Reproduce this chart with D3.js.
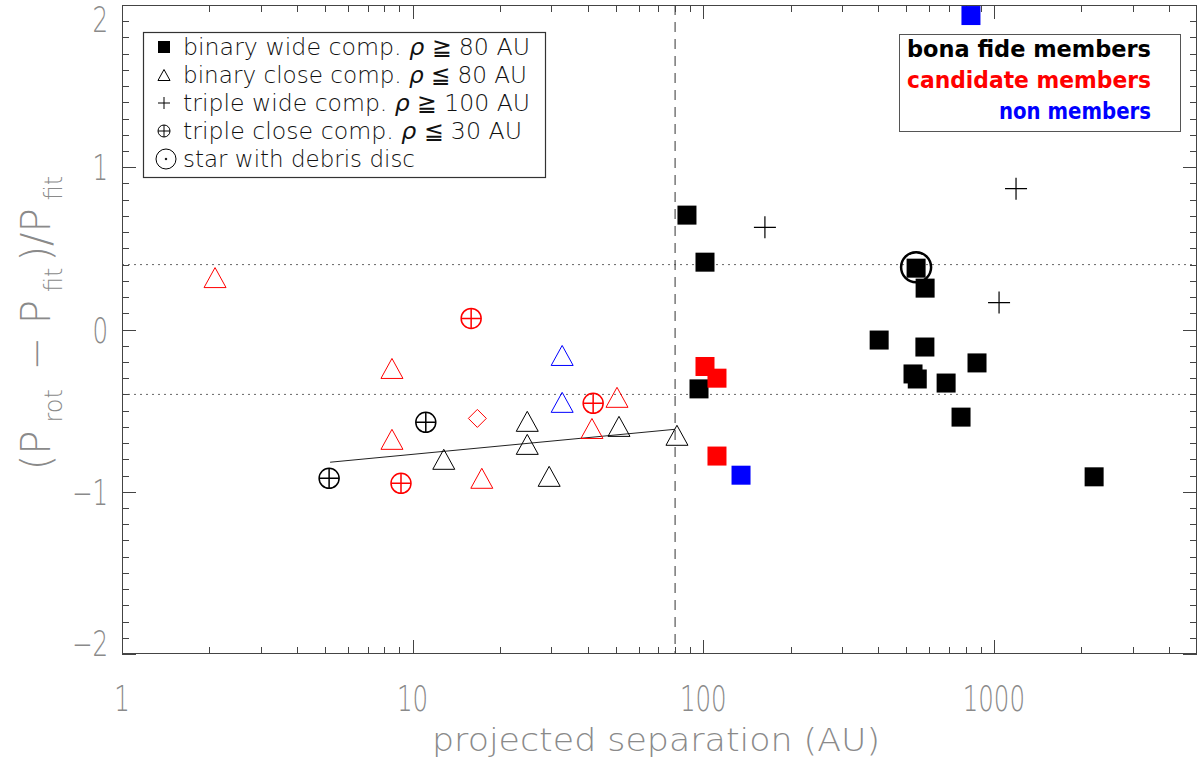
<!DOCTYPE html>
<html>
<head>
<meta charset="utf-8">
<script src="https://cdn.jsdelivr.net/npm/d3@7"></script>
<style>
  body { margin: 0; background: #fff; }
  svg { display: block; }
  text { font-family: "DejaVu Sans", sans-serif; }
</style>
</head>
<body>
<div id="chart"></div>
<script>
// membership: b = bona fide, c = candidate, n = non member
const memberColor = { b: '#000000', c: '#ff0000', n: '#0000ff' };

// binary wide companions (filled squares)
const wideBinary = [
  { sep: 87.9, dev: 0.705, mem: 'b' },
  { sep: 101.4, dev: 0.415, mem: 'b' },
  { sep: 96.7, dev: -0.366, mem: 'b' },
  { sep: 540, dev: 0.378, mem: 'b' },
  { sep: 580, dev: 0.255, mem: 'b' },
  { sep: 579, dev: -0.108, mem: 'b' },
  { sep: 403, dev: -0.065, mem: 'b' },
  { sep: 527, dev: -0.274, mem: 'b' },
  { sep: 545, dev: -0.305, mem: 'b' },
  { sep: 685, dev: -0.33, mem: 'b' },
  { sep: 875, dev: -0.206, mem: 'b' },
  { sep: 771, dev: -0.54, mem: 'b' },
  { sep: 2213, dev: -0.908, mem: 'b' },
  { sep: 101.4, dev: -0.228, mem: 'c' },
  { sep: 111.5, dev: -0.30, mem: 'c' },
  { sep: 111.5, dev: -0.78, mem: 'c' },
  { sep: 134.9, dev: -0.898, mem: 'n' },
  { sep: 834, dev: 1.935, mem: 'n' }
];

// binary close companions (open triangles)
const closeBinary = [
  { sep: 2.09, dev: 0.32, mem: 'c' },
  { sep: 8.49, dev: -0.24, mem: 'c' },
  { sep: 8.49, dev: -0.677, mem: 'c' },
  { sep: 17.3, dev: -0.917, mem: 'c' },
  { sep: 41.4, dev: -0.61, mem: 'c' },
  { sep: 50.5, dev: -0.418, mem: 'c' },
  { sep: 12.8, dev: -0.80, mem: 'b' },
  { sep: 24.8, dev: -0.566, mem: 'b' },
  { sep: 24.8, dev: -0.708, mem: 'b' },
  { sep: 29.5, dev: -0.905, mem: 'b' },
  { sep: 51.3, dev: -0.597, mem: 'b' },
  { sep: 81.2, dev: -0.652, mem: 'b' },
  { sep: 32.7, dev: -0.16, mem: 'n' },
  { sep: 32.7, dev: -0.449, mem: 'n' }
];

// triple wide companions (plus)
const wideTriple = [
  { sep: 163, dev: 0.63, mem: 'b' },
  { sep: 1192, dev: 0.868, mem: 'b' },
  { sep: 1042, dev: 0.166, mem: 'b' }
];

// triple close companions (circled plus)
const closeTriple = [
  { sep: 15.9, dev: 0.068, mem: 'c' },
  { sep: 11.1, dev: -0.572, mem: 'b' },
  { sep: 5.16, dev: -0.917, mem: 'b' },
  { sep: 9.12, dev: -0.948, mem: 'c' },
  { sep: 41.8, dev: -0.455, mem: 'c' }
];

// other (diamond)
const otherStars = [
  { sep: 16.7, dev: -0.548, mem: 'c' }
];

// debris disc host
const debrisDisc = [
  { sep: 540, dev: 0.378 }
];

// linear fit in log separation
const fitLine = [
  { sep: 5.2, dev: -0.818 },
  { sep: 80, dev: -0.615 }
];

const xMajor = [1, 10, 100, 1000];
const yMajor = [-2, -1, 0, 1, 2];
const bandLevels = [-0.4, 0.4];
const splitSep = 80;

const symbolLegend = [
  { sym: 'square', pre: 'binary wide comp. ', post: ' \u2267 80 AU' },
  { sym: 'triangle', pre: 'binary close comp. ', post: ' \u2266 80 AU' },
  { sym: 'plus', pre: 'triple wide comp. ', post: ' \u2267 100 AU' },
  { sym: 'oplus', pre: 'triple close comp. ', post: ' \u2266 30 AU' },
  { sym: 'ring', pre: 'star with debris disc', post: null }
];
const colorLegend = [
  { mem: 'b', label: 'bona fide members' },
  { mem: 'c', label: 'candidate members' },
  { mem: 'n', label: 'non members' }
];

const W = 1200, H = 759;
const m = { left: 122, right: 3, top: 5, bottom: 105 };

const svg = d3.select('#chart').append('svg').attr('width', W).attr('height', H);

const x = d3.scaleLog().domain([1, 5000]).range([m.left, W - m.right]);
const y = d3.scaleLinear().domain([-2, 2]).range([H - m.bottom, m.top]);

const axisColor = '#444';
const labelColor = '#8a8a8a';

// reference lines
svg.append('g').selectAll('line').data(bandLevels).join('line')
  .attr('x1', m.left).attr('x2', W - m.right)
  .attr('y1', d => y(d)).attr('y2', d => y(d))
  .attr('stroke', '#666').attr('stroke-width', 1)
  .attr('stroke-dasharray', '2,4');

svg.append('line')
  .attr('x1', x(splitSep)).attr('x2', x(splitSep))
  .attr('y1', m.top).attr('y2', H - m.bottom)
  .attr('stroke', '#333').attr('stroke-width', 1)
  .attr('stroke-dasharray', '10,7');

// fit line
svg.append('path')
  .datum(fitLine)
  .attr('d', d3.line().x(d => x(d.sep)).y(d => y(d.dev)))
  .attr('fill', 'none').attr('stroke', '#222').attr('stroke-width', 1);

// frame + ticks
const frame = svg.append('g').attr('stroke', axisColor).attr('stroke-width', 1);
frame.append('rect')
  .attr('x', m.left + 0.5).attr('y', m.top + 0.5)
  .attr('width', W - m.left - m.right - 1).attr('height', H - m.top - m.bottom - 1)
  .attr('fill', 'none');

const xMinor = [];
for (let dec = 1; dec <= 1000; dec *= 10) {
  for (let k = 2; k <= 9; k++) if (dec * k < 5000) xMinor.push(dec * k);
}
const yMinor = d3.range(-20, 21).map(v => v / 10).filter(v => !yMajor.includes(v));

const xt = xMajor.map(v => ({ v, len: 14 })).concat(xMinor.map(v => ({ v, len: 7 })));
const yt = yMajor.map(v => ({ v, len: 14 })).concat(yMinor.map(v => ({ v, len: 7 })));
const yTop = m.top, yBot = H - m.bottom, xL = m.left, xR = W - m.right;

frame.selectAll('.xb').data(xt).join('line')
  .attr('x1', d => Math.round(x(d.v)) + 0.5).attr('x2', d => Math.round(x(d.v)) + 0.5)
  .attr('y1', yBot).attr('y2', d => yBot - d.len);
frame.selectAll('.xtp').data(xt).join('line')
  .attr('x1', d => Math.round(x(d.v)) + 0.5).attr('x2', d => Math.round(x(d.v)) + 0.5)
  .attr('y1', yTop).attr('y2', d => yTop + d.len);
frame.selectAll('.yl').data(yt).join('line')
  .attr('y1', d => Math.round(y(d.v)) + 0.5).attr('y2', d => Math.round(y(d.v)) + 0.5)
  .attr('x1', xL).attr('x2', d => xL + d.len);
frame.selectAll('.yr').data(yt).join('line')
  .attr('y1', d => Math.round(y(d.v)) + 0.5).attr('y2', d => Math.round(y(d.v)) + 0.5)
  .attr('x1', xR).attr('x2', d => xR - d.len);

// tick labels (condensed thin look)
const tickFont = 35;
svg.append('g').selectAll('text').data(xMajor).join('text')
  .attr('transform', d => `translate(${x(d)},${711}) scale(0.7,1)`)
  .attr('text-anchor', 'middle')
  .attr('font-size', tickFont).attr('font-weight', 200)
  .attr('fill', labelColor)
  .text(d => d3.format('d')(d));

svg.append('g').selectAll('text').data(yMajor).join('text')
  .attr('transform', d => {
    const cy = Math.min(Math.max(y(d), 19), 643);
    return `translate(108,${cy + 13}) scale(0.7,1)`;
  })
  .attr('text-anchor', 'end')
  .attr('font-size', tickFont).attr('font-weight', 200)
  .attr('fill', labelColor)
  .text(d => (d < 0 ? '\u2212' : '') + Math.abs(d));

// axis titles
svg.append('text')
  .attr('x', 656).attr('y', 751)
  .attr('text-anchor', 'middle')
  .attr('font-size', 32).attr('font-weight', 200)
  .attr('fill', labelColor)
  .attr('textLength', 448).attr('lengthAdjust', 'spacingAndGlyphs')
  .text('projected separation (AU)');

const yt2 = svg.append('text')
  .attr('transform', `translate(50,${329}) rotate(-90)`)
  .attr('text-anchor', 'middle')
  .attr('font-size', 40).attr('font-weight', 200)
  .attr('fill', labelColor);
const parts = [
  ['(P', 0], ['rot', 1], [' \u2212 P', 0], ['fit', 1], [')/P', 0], ['fit', 1]
];
parts.forEach(([t, sub]) => {
  yt2.append('tspan')
    .attr('font-size', sub ? 24 : 40)
    .attr('dy', sub ? 12 : (t === '(P' ? 0 : -12))
    .attr('dx', sub ? 8 : 6)
    .text(t);
});

// markers
const g = svg.append('g');

g.selectAll('.sq').data(wideBinary).join('rect')
  .attr('x', d => x(d.sep) - 9.5).attr('y', d => y(d.dev) - 9.5)
  .attr('width', 19).attr('height', 19)
  .attr('fill', d => memberColor[d.mem]);

const triPath = (s) => `M0,${-s}L${s * 1.1},${s}L${-s * 1.1},${s}Z`;
g.selectAll('.tri').data(closeBinary).join('path')
  .attr('transform', d => `translate(${x(d.sep)},${y(d.dev)})`)
  .attr('d', triPath(10))
  .attr('fill', 'none').attr('stroke', d => memberColor[d.mem]).attr('stroke-width', 1);

g.selectAll('.pl').data(wideTriple).join('path')
  .attr('transform', d => `translate(${x(d.sep)},${y(d.dev)})`)
  .attr('d', 'M-11,0H11M0,-11V11')
  .attr('fill', 'none').attr('stroke', d => memberColor[d.mem]).attr('stroke-width', 1.2);

const op = g.selectAll('.op').data(closeTriple).join('g')
  .attr('transform', d => `translate(${x(d.sep)},${y(d.dev)})`)
  .attr('stroke', d => memberColor[d.mem]).attr('fill', 'none').attr('stroke-width', 1.5);
op.append('circle').attr('r', 10);
op.append('path').attr('d', 'M-10,0H10M0,-10V10');

g.selectAll('.dm').data(otherStars).join('path')
  .attr('transform', d => `translate(${x(d.sep)},${y(d.dev)})`)
  .attr('d', 'M0,-9L9,0L0,9L-9,0Z')
  .attr('fill', 'none').attr('stroke', d => memberColor[d.mem]).attr('stroke-width', 1);

g.selectAll('.ring').data(debrisDisc).join('circle')
  .attr('cx', d => x(d.sep)).attr('cy', d => y(d.dev) - 1)
  .attr('r', 15)
  .attr('fill', 'none').attr('stroke', '#000').attr('stroke-width', 2.5);

// symbol legend
const lg = svg.append('g');
lg.append('rect')
  .attr('x', 143.5).attr('y', 32.5).attr('width', 402).attr('height', 145)
  .attr('fill', '#fff').attr('stroke', '#333').attr('stroke-width', 1.2);

const legendWidths = [347, 344, 347, 339, 232];
symbolLegend.forEach((d, i) => {
  const cy = 47 + i * 28;
  const s = lg.append('g').attr('transform', `translate(164,${cy})`)
    .attr('stroke', '#000').attr('fill', 'none').attr('stroke-width', 1);
  if (d.sym === 'square') s.append('rect').attr('x', -6).attr('y', -6).attr('width', 12).attr('height', 12).attr('fill', '#000').attr('stroke', 'none');
  if (d.sym === 'triangle') s.append('path').attr('d', triPath(5.5));
  if (d.sym === 'plus') s.append('path').attr('d', 'M-6,0H6M0,-6V6');
  if (d.sym === 'oplus') { s.append('circle').attr('r', 6); s.append('path').attr('d', 'M-6,0H6M0,-6V6'); }
  if (d.sym === 'ring') { s.attr('transform', `translate(166,${cy})`); s.append('circle').attr('r', 10); s.append('circle').attr('r', 0.8).attr('fill', '#000'); }
  const t = lg.append('text')
    .attr('x', 183).attr('y', cy + 8)
    .attr('font-size', 23).attr('font-weight', 200)
    .attr('fill', '#111')
    .attr('textLength', legendWidths[i]).attr('lengthAdjust', 'spacingAndGlyphs');
  t.append('tspan').text(d.pre);
  if (d.post) {
    t.append('tspan').attr('font-style', 'italic').text('\u03C1');
    t.append('tspan').text(d.post);
  }
});

// membership legend
const cg = svg.append('g');
cg.append('rect')
  .attr('x', 899.5).attr('y', 34.5).attr('width', 281).attr('height', 97)
  .attr('fill', '#fff').attr('stroke', '#555').attr('stroke-width', 1);
const colorWidths = [244, 244, 152];
colorLegend.forEach((d, i) => {
  cg.append('text')
    .attr('x', 1151).attr('y', 57 + i * 31)
    .attr('text-anchor', 'end')
    .attr('font-size', 23).attr('font-weight', 'bold')
    .attr('fill', memberColor[d.mem])
    .attr('textLength', colorWidths[i]).attr('lengthAdjust', 'spacingAndGlyphs')
    .text(d.label);
});
</script>
</body>
</html>
